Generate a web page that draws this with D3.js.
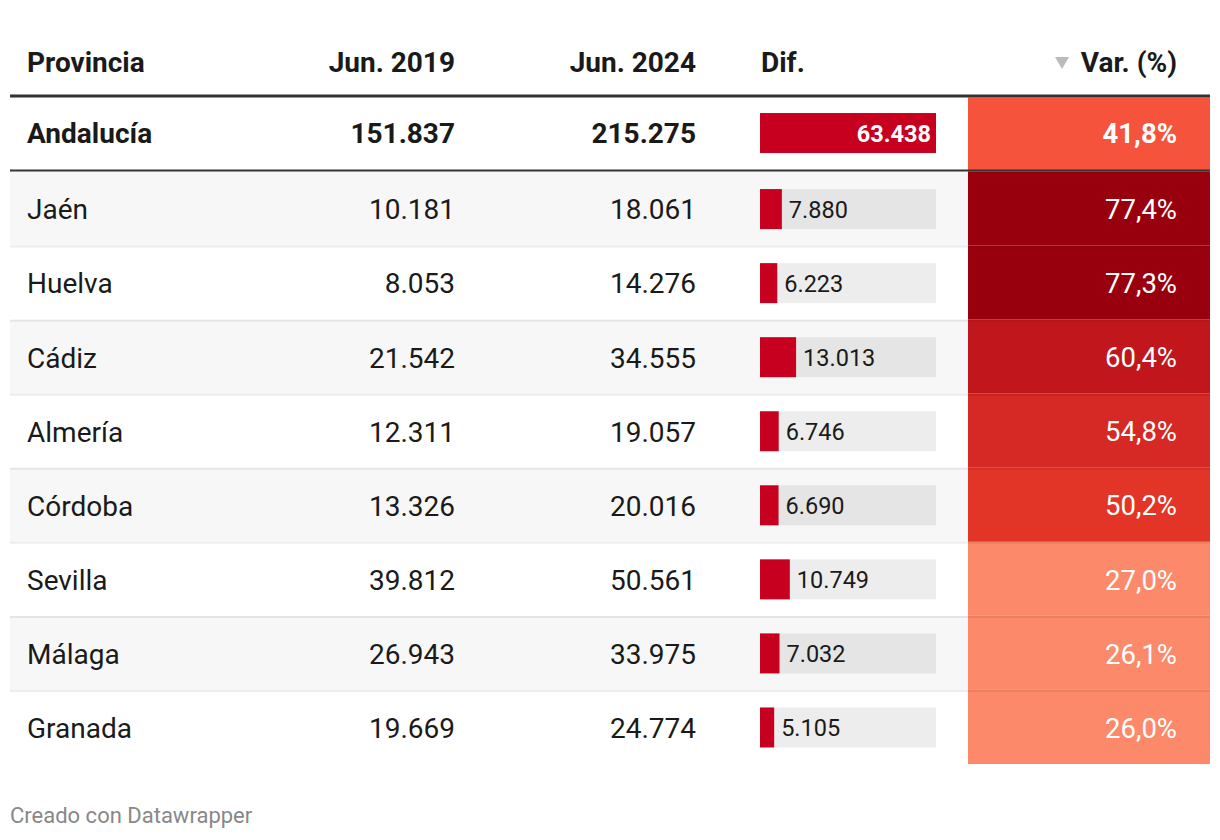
<!DOCTYPE html>
<html>
<head>
<meta charset="utf-8">
<script src="https://cdn.jsdelivr.net/npm/d3@7"></script>
<style>
  html, body { margin: 0; padding: 0; background: #fff; }
  svg { display: block; font-family: Roboto, "Noto Sans", sans-serif; }
</style>
</head>
<body>
<svg id="chart" width="1220" height="840"></svg>
<script>
// ---- data ----
const headers = ["Provincia", "Jun. 2019", "Jun. 2024", "Dif.", "Var. (%)"];
const provinces = ["Andalucía", "Jaén", "Huelva", "Cádiz", "Almería", "Córdoba", "Sevilla", "Málaga", "Granada"];
const jun2019 = [151837, 10181, 8053, 21542, 12311, 13326, 39812, 26943, 19669];
const jun2024 = [215275, 18061, 14276, 34555, 19057, 20016, 50561, 33975, 24774];
const dif = [63438, 7880, 6223, 13013, 6746, 6690, 10749, 7032, 5105];
const varPct = [41.8, 77.4, 77.3, 60.4, 54.8, 50.2, 27.0, 26.1, 26.0];
const colorThresholds = [35, 45, 52, 58, 70];
const colorSteps = ["#fc8a6a", "#f5533b", "#e33428", "#d62824", "#c2161d", "#99000d"];
const footer = "Creado con Datawrapper";

// ---- setup ----
const locale = d3.formatLocale({decimal: ",", thousands: ".", grouping: [3], currency: ["", " €"]});
const fmtInt = locale.format(",d");
const fmtPct = v => locale.format(".1f")(v) + "%";

const rows = provinces.map((p, i) => ({
  name: p, a: jun2019[i], b: jun2024[i], d: dif[i], v: varPct[i], i
}));

const svg = d3.select("#chart");
const left = 10, right = 1210;
const y = d3.scaleBand().domain(provinces).range([97.5, 764]);
const barX = d3.scaleLinear().domain([0, d3.max(dif)]).range([0, 176]);
const color = d3.scaleThreshold().domain(colorThresholds).range(colorSteps);

const col = { prov: 27, a: 455, b: 696, difX: 760, heatX: 968, varR: 1177 };
const textColor = "#1a1a1a";
const fs = 28;

// row backgrounds
svg.append("g").selectAll("rect").data(rows).join("rect")
  .attr("x", left).attr("width", right - left)
  .attr("y", d => y(d.name)).attr("height", y.bandwidth())
  .attr("fill", d => (d.i % 2 === 1) ? "#f7f7f7" : "#ffffff");

// heatmap cells
svg.append("g").selectAll("rect").data(rows).join("rect")
  .attr("x", col.heatX).attr("width", right - col.heatX)
  .attr("y", d => y(d.name)).attr("height", y.bandwidth())
  .attr("fill", d => color(d.v));

// row separators
svg.append("g").selectAll("line").data(rows.slice(2)).join("line")
  .attr("x1", left).attr("x2", right)
  .attr("y1", d => y(d.name) + 1).attr("y2", d => y(d.name) + 1)
  .attr("stroke", "rgba(0,0,0,0.07)").attr("stroke-width", 2);

// header line and total line
svg.append("line").attr("x1", left).attr("x2", right).attr("y1", 96).attr("y2", 96)
  .attr("stroke", "#333").attr("stroke-width", 3);
svg.append("line").attr("x1", left).attr("x2", right)
  .attr("y1", y(provinces[1]) - 1).attr("y2", y(provinces[1]) - 1)
  .attr("stroke", "#333").attr("stroke-width", 2);

// headers
const hy = 72;
const hdr = svg.append("g").attr("font-weight", 700).attr("font-size", fs).attr("fill", textColor);
hdr.append("text").attr("x", col.prov).attr("y", hy).text(headers[0]);
hdr.append("text").attr("x", col.a).attr("y", hy).attr("text-anchor", "end").text(headers[1]);
hdr.append("text").attr("x", col.b).attr("y", hy).attr("text-anchor", "end").text(headers[2]);
hdr.append("text").attr("x", col.difX + 1).attr("y", hy).text(headers[3]);
hdr.append("text").attr("x", col.varR).attr("y", hy).attr("text-anchor", "end").text(headers[4]);
svg.append("path").attr("d", "M1055,57 L1069,57 L1062,69 Z").attr("fill", "#bbbbbb");

// cell text
const cy = d => y(d.name) + y.bandwidth() / 2 - (d.i === 0 ? 1.5 : -0.5);
const g = svg.append("g").attr("font-size", fs);
const rowG = g.selectAll("g").data(rows).join("g")
  .attr("font-weight", d => d.i === 0 ? 700 : 400);

rowG.append("text").attr("x", col.prov).attr("y", cy).attr("dy", "0.37em")
  .attr("fill", textColor).text(d => d.name);
rowG.append("text").attr("x", col.a).attr("y", cy).attr("dy", "0.37em")
  .attr("text-anchor", "end").attr("fill", textColor).text(d => fmtInt(d.a));
rowG.append("text").attr("x", col.b).attr("y", cy).attr("dy", "0.37em")
  .attr("text-anchor", "end").attr("fill", textColor).text(d => fmtInt(d.b));

// bars
const barH = 40;
rowG.filter(d => d.i > 0).append("rect")
  .attr("x", col.difX).attr("width", barX.range()[1])
  .attr("y", d => cy(d) - barH / 2).attr("height", barH)
  .attr("fill", "rgba(0,0,0,0.07)");
rowG.append("rect")
  .attr("x", col.difX).attr("width", d => barX(d.d))
  .attr("y", d => cy(d) - barH / 2).attr("height", barH)
  .attr("fill", "#c80020");
rowG.append("text")
  .attr("font-size", 23.5)
  .attr("y", cy).attr("dy", "0.37em")
  .attr("x", d => barX(d.d) > 120 ? col.difX + barX(d.d) - 5 : col.difX + barX(d.d) + 7)
  .attr("text-anchor", d => barX(d.d) > 120 ? "end" : "start")
  .attr("fill", d => barX(d.d) > 120 ? "#ffffff" : textColor)
  .text(d => fmtInt(d.d));

// heatmap labels
rowG.append("text").attr("x", col.varR).attr("y", cy).attr("dy", "0.37em")
  .attr("font-size", 27.5)
  .attr("text-anchor", "end").attr("fill", "#ffffff").text(d => fmtPct(d.v));

// footer
svg.append("text").attr("x", 10).attr("y", 823).attr("font-size", 22)
  .attr("fill", "#888888").text(footer);
</script>
</body>
</html>
